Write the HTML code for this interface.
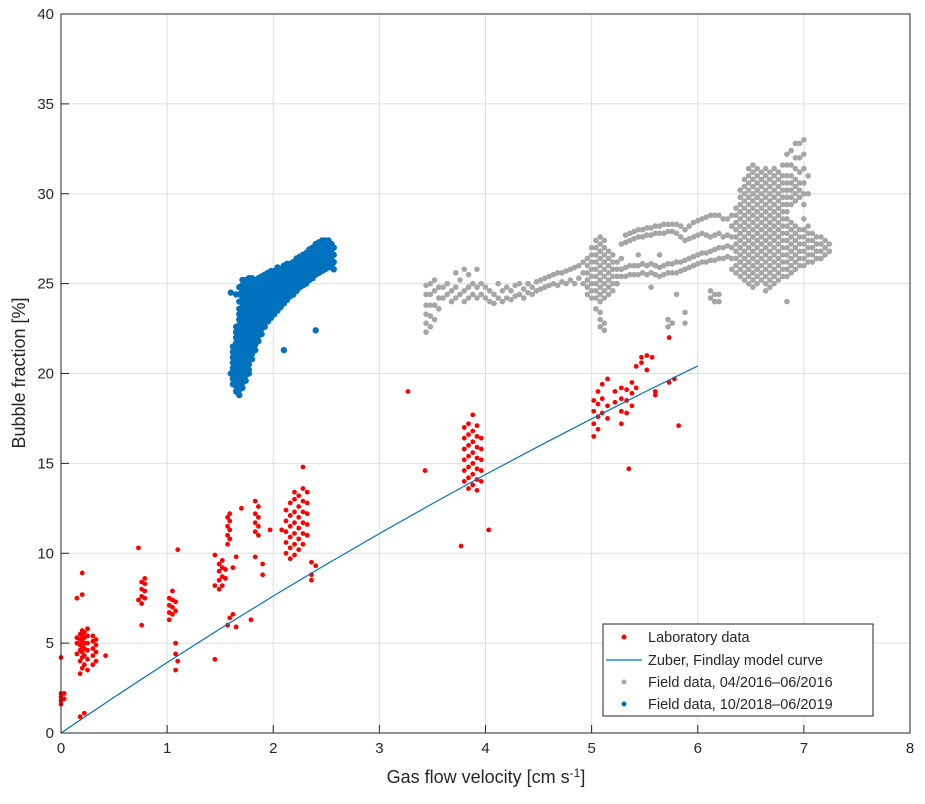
<!DOCTYPE html>
<html><head><meta charset="utf-8"><style>
body{margin:0;background:#fff;}
svg text{font-family:"Liberation Sans",Arial,sans-serif;fill:#262626;}
</style></head><body>
<svg id="chart" width="925" height="799" viewBox="0 0 925 799" xmlns="http://www.w3.org/2000/svg">
<rect width="925" height="799" fill="#fff"/>
<g id="grid"></g>
<g id="marks"></g>
<rect x="61" y="14" width="849" height="719" fill="none" stroke="#262626" stroke-width="1"/>
<g id="ticks"></g>
<text x="486" y="783" font-size="18" text-anchor="middle">Gas flow velocity [cm s<tspan dy="-6" font-size="12">-1</tspan><tspan dy="6">]</tspan></text>
<text transform="translate(25,373) rotate(-90)" font-size="18" text-anchor="middle">Bubble fraction [%]</text>
<g>
<rect x="603" y="624" width="270" height="92" fill="#fff" stroke="#262626" stroke-width="1"/>
<g><circle cx="624" cy="637" r="2.5" fill="#ff0000"/><text x="648" y="642" font-size="14.5">Laboratory data</text></g>
<g><line x1="606" y1="660" x2="642" y2="660" stroke="#0072bd" stroke-width="1.2"/><text x="648" y="665" font-size="14.5">Zuber, Findlay model curve</text></g>
<g><circle cx="624" cy="682" r="2.5" fill="#a6a6a6"/><text x="648" y="687" font-size="14.5">Field data, 04/2016–06/2016</text></g>
<g><circle cx="624" cy="704" r="2.5" fill="#0072bd"/><text x="648" y="709" font-size="14.5">Field data, 10/2018–06/2019</text></g>
</g>
</svg>
<script>
const xTicks=[0,1,2,3,4,5,6,7,8];
const yTicks=[0,5,10,15,20,25,30,35,40];
const modelX=[0,0.5,1,1.5,2,2.5,3,3.5,4,4.5,5,5.5,6];
const modelY=[0,1.99,3.92,5.80,7.62,9.38,11.09,12.76,14.38,15.95,17.48,18.97,20.42];
const grayCols=[
[3.44,[22.3,22.8,23.3,23.8,24.4,24.9]],[3.48,[22.6,23.2,23.8,24.4,25.0]],[3.52,[23.0,23.8,24.6,25.2]],[3.56,[23.6,24.2,24.8]],
[3.60,[24.2,24.8]],[3.64,[24.4,25.0]],[3.68,[24.0,24.6]],[3.72,[24.2,24.8,25.6]],[3.76,[24.4,25.2]],[3.80,[24.0,24.6,25.8]],
[3.84,[24.2,24.8,25.5]],[3.88,[24.4,25.0]],[3.92,[24.2,24.8,25.8]],[3.96,[24.4,25.0]],[4.00,[24.2,24.8]],[4.04,[24.0,24.6]],
[4.08,[23.9,24.4]],[4.12,[24.2,25.0]],[4.16,[24.0,24.6]],[4.20,[24.2,24.8]],[4.24,[24.1,24.6]],[4.28,[24.3,24.9]],
[4.32,[24.4,25.0]],[4.36,[24.2,24.7]],[4.40,[24.5,25.0]],[4.44,[24.4,24.8]],[4.48,[24.6,25.1]],[4.52,[24.7,25.2]],
[4.56,[24.8,25.3]],[4.60,[24.9,25.4]],[4.64,[25.0,25.5]],[4.68,[24.9,25.6]],[4.72,[25.1,25.6]],[4.76,[25.0,25.7]],
[4.80,[25.2,25.8]],[4.84,[25.0,25.9]],[4.88,[25.3,26.0]],[4.92,[25.0,25.6,26.2]],
[4.96,[24.4,24.8,25.2,25.6,26.0,26.4]],[5.00,[24.2,24.6,25.0,25.4,25.8,26.2,26.6,27.0]],
[5.04,[23.6,24.2,24.6,25.0,25.4,25.8,26.2,26.6,27.0,27.4]],
[5.08,[22.6,23.0,23.4,24.0,24.4,24.8,25.2,25.6,26.0,26.4,26.8,27.2,27.6]],
[5.12,[22.4,22.8,24.2,24.6,25.0,25.4,25.8,26.2,26.6,27.0,27.4]],
[5.16,[24.4,24.8,25.2,25.6,26.0,26.4,26.8]],[5.20,[24.6,25.0,25.4,25.8,26.2,26.6]],[5.24,[25.0,25.4,25.8,26.2]],
[5.28,[25.4,25.8,26.4,27.2]],[5.32,[25.4,25.9,27.3,27.7]],[5.36,[25.5,26.0,27.4,27.8]],[5.40,[25.5,26.0,27.5,27.9]],
[5.44,[25.5,26.0,26.6,27.6,28.0]],[5.48,[25.6,26.1,27.6,28.0]],[5.52,[25.5,26.0,27.7,28.1]],[5.56,[24.8,25.6,26.1,27.7,28.1]],
[5.60,[25.5,26.0,27.8,28.2]],[5.64,[25.4,25.9,26.6,27.8,28.2]],[5.68,[25.5,26.0,27.8,28.3]],[5.72,[22.6,23.0,25.6,26.1,27.9,28.3]],
[5.76,[22.8,25.6,26.1,27.9,28.3]],[5.80,[24.4,25.6,26.2,27.8,28.3]],[5.84,[25.7,26.2,27.6,28.2]],[5.88,[22.8,23.4,25.8,26.3,27.4,28.0]],
[5.92,[25.9,26.4,27.5,28.2]],[5.96,[26.0,26.5,27.6,28.4]],[6.00,[26.1,26.6,27.7,28.5]],[6.04,[26.2,26.7,27.8,28.6]],
[6.08,[26.2,26.7,27.7,28.7]],[6.12,[24.2,24.6,26.3,26.8,27.6,28.8]],[6.16,[24.0,24.4,26.3,26.9,27.7,28.8]],
[6.20,[24.0,24.4,26.4,27.0,27.8,28.8]],[6.24,[26.4,27.0,27.6,28.6]],[6.28,[26.5,27.1,27.7,28.6]],[6.32,[25.8,26.4,27.0,27.6,28.2,28.8]],
[6.36,[25.6,26.0,26.4,26.8,27.2,27.6,28.0,28.4,28.8,29.2]],
[6.40,[25.4,25.8,26.2,26.6,27.0,27.4,27.8,28.2,28.6,29.0,29.4,29.8,30.2]],
[6.44,[25.2,25.6,26.0,26.4,26.8,27.2,27.6,28.0,28.4,28.8,29.2,29.6,30.0,30.4,30.8]],
[6.48,[25.0,25.4,25.8,26.2,26.6,27.0,27.4,27.8,28.2,28.6,29.0,29.4,29.8,30.2,30.6,31.0,31.4]],
[6.52,[24.8,25.2,25.6,26.0,26.4,26.8,27.2,27.6,28.0,28.4,28.8,29.2,29.6,30.0,30.4,30.8,31.2,31.6]],
[6.56,[25.0,25.4,25.8,26.2,26.6,27.0,27.4,27.8,28.2,28.6,29.0,29.4,29.8,30.2,30.6,31.0,31.4]],
[6.60,[25.2,25.6,26.0,26.4,26.8,27.2,27.6,28.0,28.4,28.8,29.2,29.6,30.0,30.4,30.8,31.2]],
[6.64,[24.6,25.0,25.4,25.8,26.2,26.6,27.0,27.4,27.8,28.2,28.6,29.0,29.4,29.8,30.2,30.6,31.0,31.4]],
[6.68,[24.8,25.2,25.6,26.0,26.4,26.8,27.2,27.6,28.0,28.4,28.8,29.2,29.6,30.0,30.4,30.8,31.2]],
[6.72,[25.0,25.4,25.8,26.2,26.6,27.0,27.4,27.8,28.2,28.6,29.0,29.4,29.8,30.2,30.6,31.0,31.4]],
[6.76,[25.2,25.6,26.0,26.4,26.8,27.2,27.6,28.0,28.4,28.8,29.2,29.6,30.0,30.4,30.8,31.2]],
[6.80,[25.4,25.8,26.2,26.6,27.0,27.4,27.8,28.2,28.6,29.0,29.4,29.8,30.2,30.6,31.0,31.6]],
[6.84,[24.0,25.4,25.8,26.2,26.6,27.0,27.4,27.8,28.2,28.6,29.0,29.4,29.8,30.2,30.6,31.0,31.6,32.2]],
[6.88,[25.6,26.0,26.4,26.8,27.2,27.6,28.0,28.4,29.4,29.8,30.2,30.6,31.0,31.6,32.4]],
[6.92,[25.8,26.2,26.6,27.0,27.4,27.8,28.2,29.6,30.0,30.4,30.8,31.4,32.0,32.8]],
[6.96,[26.0,26.4,26.8,27.2,27.6,28.0,29.8,30.2,30.6,31.2,32.0,32.8]],
[7.00,[26.0,26.4,26.8,27.2,27.6,28.0,28.6,29.4,30.0,30.6,31.4,32.2,33.0]],
[7.04,[26.2,26.6,27.0,27.4,27.8,28.2,30.0,31.0]],[7.08,[26.2,26.6,27.0,27.4,27.8]],[7.12,[26.4,26.8,27.2,27.6]],
[7.16,[26.4,26.8,27.2,27.6]],[7.20,[26.6,27.0,27.4]],[7.24,[26.8,27.2]]
];
const blueCols=[
[1.60,[20.0,24.5]],[1.62,[19.4,19.7,20.0,20.3,20.6,20.9,21.2,21.5]],
[1.65,[19.0,19.3,19.6,19.9,20.2,20.5,20.8,21.1,21.4,21.7,22.0,22.3,22.6,24.4]],
[1.68,[18.8,19.1,19.4,19.7,20.0,20.3,20.6,20.9,21.2,21.5,21.8,22.1,22.4,22.7,23.0,23.3,23.6,24.0,24.4,24.8]],
[1.71,[19.2,19.5,19.8,20.1,20.4,20.7,21.0,21.3,21.6,21.9,22.2,22.5,22.8,23.1,23.4,23.7,24.0,24.3,24.6,24.9,25.2]],
[1.74,[19.6,19.9,20.2,20.5,20.8,21.1,21.4,21.7,22.0,22.3,22.6,22.9,23.2,23.5,23.8,24.1,24.4,24.7,25.0,25.2]],
[1.77,[20.0,20.2,20.5,20.8,21.1,21.4,21.7,22.0,22.3,22.6,22.9,23.2,23.5,23.8,24.1,24.4,24.7,25.0,25.3]],
[1.80,[20.8,21.1,21.4,21.7,22.0,22.3,22.6,22.9,23.2,23.5,23.8,24.1,24.4,24.7,25.0,25.3]],
[1.83,[21.3,21.6,21.9,22.2,22.5,22.8,23.1,23.4,23.7,24.0,24.3,24.6,24.9,25.2]],
[1.86,[21.8,22.1,22.4,22.7,23.0,23.3,23.6,23.9,24.2,24.5,24.8,25.1,25.3]],
[1.89,[22.2,22.5,22.8,23.1,23.4,23.7,24.0,24.3,24.6,24.9,25.2,25.4]],
[1.92,[22.6,22.9,23.2,23.5,23.8,24.1,24.4,24.7,25.0,25.3,25.5]],
[1.95,[22.9,23.2,23.5,23.8,24.1,24.4,24.7,25.0,25.3,25.6]],
[1.98,[23.1,23.4,23.7,24.0,24.3,24.6,24.9,25.2,25.5,25.7]],
[2.01,[23.3,23.6,23.9,24.2,24.5,24.8,25.1,25.4,25.7]],
[2.04,[23.5,23.8,24.1,24.4,24.7,25.0,25.3,25.6,25.9]],
[2.07,[23.7,24.0,24.3,24.6,24.9,25.2,25.5,25.8]],
[2.10,[21.3,23.9,24.2,24.5,24.8,25.1,25.4,25.7,26.0]],
[2.13,[24.1,24.4,24.7,25.0,25.3,25.6,25.9,26.1]],
[2.16,[24.3,24.6,24.9,25.2,25.5,25.8,26.1]],
[2.19,[24.4,24.7,25.0,25.3,25.6,25.9,26.2]],
[2.22,[24.6,24.9,25.2,25.5,25.8,26.1,26.4]],
[2.25,[24.8,25.1,25.4,25.7,26.0,26.3,26.5]],
[2.28,[24.9,25.2,25.5,25.8,26.1,26.4,26.6]],
[2.31,[25.0,25.3,25.6,25.9,26.2,26.5,26.7]],
[2.34,[25.2,25.5,25.8,26.1,26.4,26.7,26.9]],
[2.37,[25.3,25.6,25.9,26.2,26.5,26.8,27.0]],
[2.40,[22.4,25.5,25.8,26.1,26.4,26.7,27.0,27.2]],
[2.43,[25.6,25.9,26.2,26.5,26.8,27.1,27.3]],
[2.46,[25.7,26.0,26.3,26.6,26.9,27.2,27.4]],
[2.49,[25.8,26.1,26.4,26.7,27.0,27.3,27.4]],
[2.52,[25.9,26.2,26.5,26.8,27.1,27.4]],
[2.55,[26.0,26.3,26.6,26.9,27.2]],
[2.57,[25.8,26.2,26.6,27.0]]
];
const redCols=[
[0.0,[1.6,1.8,2.0,2.2,4.2]],[0.03,[1.9,2.2]],
[0.15,[4.4,5.0,5.3,7.5]],[0.18,[0.9,3.3,4.0,4.6,4.9,5.2,5.5]],[0.20,[3.6,4.2,4.5,4.8,5.1,5.4,5.7,7.7,8.9]],
[0.22,[1.1,3.8,4.3,4.7,5.0,5.3,5.6]],[0.25,[3.5,4.1,4.6,5.0,5.4,5.8]],[0.30,[3.8,4.3,4.7,5.1,5.4]],
[0.33,[4.0,4.5,4.9,5.2]],[0.42,[4.3]],
[0.73,[10.3,7.4]],[0.76,[7.2,7.6,8.0,8.4,6.0]],[0.79,[7.5,7.9,8.3,8.6]],
[1.02,[6.3,6.7,7.1,7.5]],[1.05,[6.6,7.0,7.4,7.9]],[1.08,[6.8,7.3,3.5,4.4,5.0]],[1.10,[10.2,4.0]],
[1.45,[4.1,8.2,9.9]],[1.49,[8.0,8.5,9.0,9.4]],[1.52,[8.2,8.7,9.2,9.6]],[1.55,[8.6,9.1]],
[1.57,[10.5,11.0,11.5,12.0,6.0]],[1.59,[10.8,11.3,11.8,12.2,6.4]],[1.62,[6.6,9.2]],[1.65,[9.8,5.9]],[1.70,[12.5]],
[1.79,[6.3]],[1.83,[11.2,11.7,12.2,12.9,9.8]],[1.86,[11.0,11.5,12.0,12.6]],[1.90,[8.8,9.4]],[1.97,[11.3]],
[2.08,[11.3]],[2.12,[10.0,10.6,11.2,11.8,12.4]],[2.16,[9.7,10.3,10.9,11.5,12.1,12.8]],
[2.20,[9.9,10.5,11.1,11.7,12.3,13.0,13.4]],[2.24,[10.2,10.8,11.4,12.0,12.6,13.2]],
[2.28,[10.5,11.1,11.7,12.3,12.9,13.6,14.8]],[2.32,[11.0,11.6,12.2,12.8,13.4]],[2.36,[9.5,8.5,8.8]],[2.40,[9.3]],
[3.27,[19.0]],[3.43,[14.6]],[3.77,[10.4]],
[3.80,[14.0,14.6,15.2,15.8,16.4,17.0]],[3.84,[13.6,14.2,14.8,15.4,16.0,16.6,17.2]],
[3.88,[13.8,14.4,15.0,15.6,16.2,16.8,17.7]],[3.92,[13.5,14.1,14.7,15.3,15.9,16.5,17.1]],
[3.96,[14.0,14.6,15.2,15.8,16.4]],[4.03,[11.3]],
[5.02,[16.5,17.2,17.9,18.5]],[5.06,[16.9,17.6,18.3,19.0]],[5.10,[17.8,18.6,19.4]],[5.15,[17.5,18.2,19.7]],
[5.22,[18.4,19.0]],[5.28,[17.2,17.9,18.6,19.2]],[5.33,[17.8,18.5,19.1]],[5.35,[14.7]],[5.38,[18.2,18.9,19.5]],
[5.42,[20.4,19.2]],[5.47,[20.6,20.9]],[5.52,[21.0,20.2]],[5.57,[20.9]],[5.60,[19.0,18.8]],
[5.73,[19.5,22.0]],[5.78,[19.7]],[5.82,[17.1]]
];
const NS="http://www.w3.org/2000/svg";
const X0=61,X1=910,Y0=733,Y1=14;
function sx(v){return X0+(v-xTicks[0])/(xTicks[xTicks.length-1]-xTicks[0])*(X1-X0);}
function sy(v){return Y0-(v-yTicks[0])/(yTicks[yTicks.length-1]-yTicks[0])*(Y0-Y1);}
const grid=document.getElementById('grid'),ticks=document.getElementById('ticks'),marks=document.getElementById('marks');
function mk(tag,attrs,parent){const e=document.createElementNS(NS,tag);for(const k in attrs)e.setAttribute(k,attrs[k]);parent.appendChild(e);return e;}
xTicks.forEach(t=>{
  const g=mk('line',{x1:sx(t),x2:sx(t),y1:Y1,y2:Y0,stroke:'#dfdfdf','stroke-width':1},grid);
  
  
  const tk=mk('line',{x1:sx(t),x2:sx(t),y1:Y0,y2:Y0-8,stroke:'#262626'},ticks);
  
  
  const tl=mk('text',{x:sx(t),y:Y0+20,'font-size':15,'text-anchor':'middle'},ticks);
  tl.textContent=t;
  
  
});
yTicks.forEach(t=>{
  const g=mk('line',{x1:X0,x2:X1,y1:sy(t),y2:sy(t),stroke:'#dfdfdf','stroke-width':1},grid);
  
  
  const tk=mk('line',{x1:X0,x2:X0+8,y1:sy(t),y2:sy(t),stroke:'#262626'},ticks);
  
  
  const tl=mk('text',{x:X0-7,y:sy(t)+5,'font-size':15,'text-anchor':'end'},ticks);
  tl.textContent=t;
  
  
});
function drawCols(cols,color,r,name){
  const g=mk('g',{},marks);
  
  
  cols.forEach(c=>c[1].forEach(y=>{
    const p=mk('circle',{cx:sx(c[0]),cy:sy(y),r:r,fill:color},g);
    
    
  }));
}
drawCols(grayCols,'#a6a6a6',2.8,'field-2016-series');
drawCols(blueCols,'#0072bd',3.2,'field-2018-series');
drawCols(redCols,'#ff0000',2.4,'laboratory-series');
const line=mk('polyline',{points:modelX.map((x,i)=>sx(x)+','+sy(modelY[i])).join(' '),fill:'none',stroke:'#0072bd','stroke-width':1.2},marks);


</script>
</body></html>
